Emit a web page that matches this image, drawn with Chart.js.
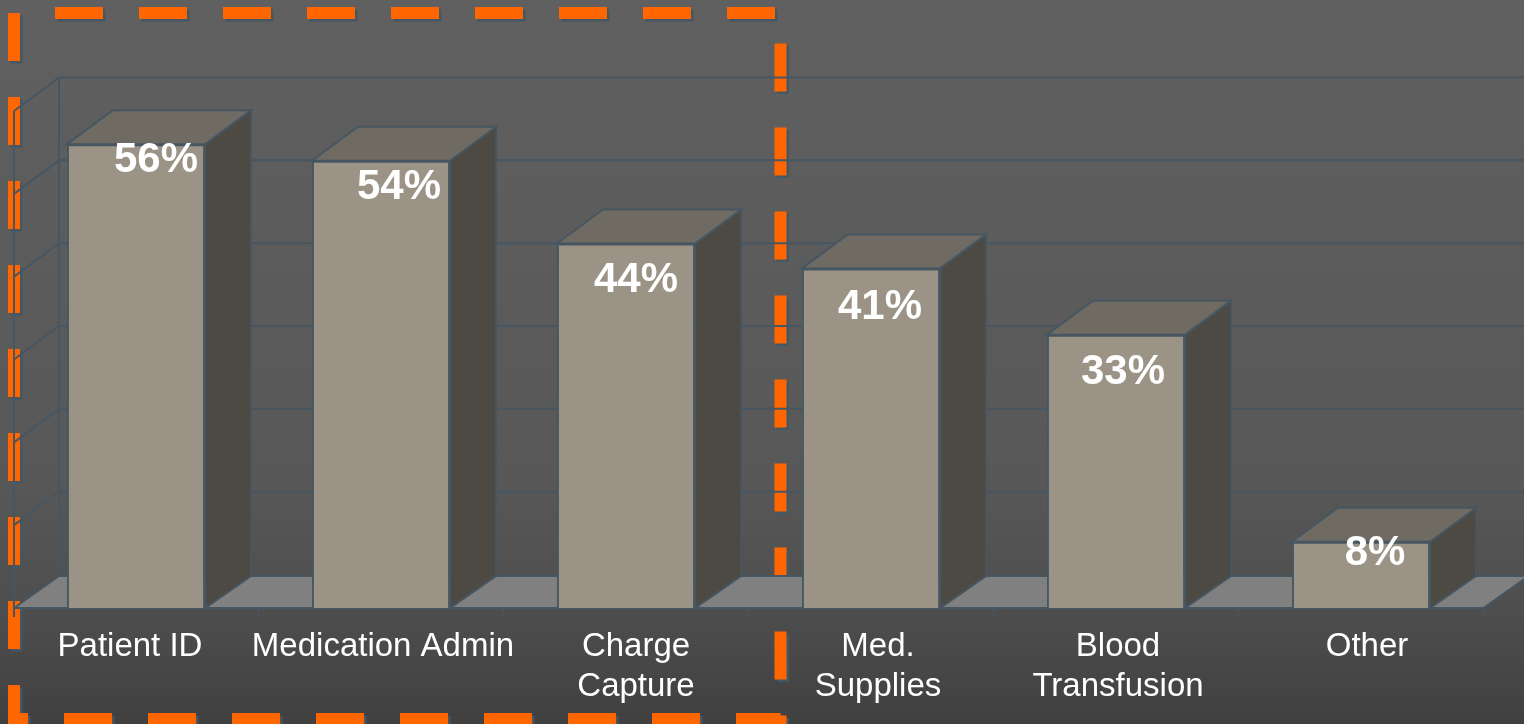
<!DOCTYPE html>
<html>
<head>
<meta charset="utf-8">
<style>html,body{margin:0;padding:0;background:#505050;overflow:hidden}canvas{display:block}</style>
<script src="https://cdn.jsdelivr.net/npm/chart.js@4"></script>
</head>
<body>
<canvas id="c" width="1524" height="724"></canvas>
<script>
const categories = ["Patient ID", "Medication Admin", ["Charge", "Capture"], ["Med.", "Supplies"], ["Blood", "Transfusion"], "Other"];
const values = [56, 54, 44, 41, 33, 8];
const valueLabels = ["56%", "54%", "44%", "41%", "33%", "8%"];
const labelShiftX = [20, 18, 10, 9, 7, 14];
const labelShiftY = [15.5, 25.5, 35.5, 38.5, 36.5, 10.5];
const tickShiftX = [-6, 2, 10, 7, 2, 6];

const LINE = '#465662';
const wallDX = 45, wallDY = 33.5, barDX = 46, barDY = 34;

function poly(ctx, pts, fill, stroke) {
  ctx.beginPath();
  pts.forEach((p, i) => i ? ctx.lineTo(p[0], p[1]) : ctx.moveTo(p[0], p[1]));
  ctx.closePath();
  if (fill) { ctx.fillStyle = fill; ctx.fill(); }
  if (stroke) { ctx.strokeStyle = stroke; ctx.lineWidth = 2; ctx.lineJoin = 'miter'; ctx.stroke(); }
}

const scene = {
  id: 'scene',
  beforeDraw(chart) {
    const { ctx, width, height } = chart;
    ctx.save();
    const g = ctx.createLinearGradient(0, 0, 0, height);
    g.addColorStop(0, '#606060');
    g.addColorStop(0.66, '#585858');
    g.addColorStop(0.84, '#4e4e4e');
    g.addColorStop(1, '#404040');
    ctx.fillStyle = g;
    ctx.fillRect(0, 0, width, height);
    // orange dashed callout frame
    ctx.shadowColor = LINE;
    ctx.shadowOffsetX = 2.5;
    ctx.shadowOffsetY = 2.5;
    ctx.shadowBlur = 0;
    ctx.strokeStyle = '#FF6600';
    ctx.lineWidth = 12;
    ctx.lineCap = 'butt';
    ctx.setLineDash([48, 36]);
    ctx.beginPath();
    ctx.moveTo(55, 13);
    ctx.lineTo(780.5, 13);
    ctx.lineTo(780.5, 719);
    ctx.lineTo(14, 719);
    ctx.lineTo(14, 13);
    ctx.stroke();
    ctx.restore();
    // nudge category labels to their hand-placed positions
    chart.scales.x.getLabelItems().forEach((item, i) => {
      if (!item._shifted) {
        item.options.translation[0] += tickShiftX[i];
        item._shifted = true;
      }
    });
  },
  beforeDatasetsDraw(chart) {
    const { ctx, scales: { x, y }, chartArea: a, width } = chart;
    ctx.save();
    const y0 = y.getPixelForValue(0);
    const fx = a.left + 0.5;
    // floor
    poly(ctx, [[fx, y0], [fx + wallDX, y0 - 32], [a.right + wallDX, y0 - 32], [a.right, y0]], '#808080', null);
    ctx.strokeStyle = LINE;
    ctx.lineWidth = 2;
    // grid on walls
    y.ticks.forEach(t => {
      const py = y.getPixelForValue(t.value);
      const by = t.value === 0 ? y0 - 32 : py - wallDY;
      ctx.beginPath();
      ctx.moveTo(fx, py);
      ctx.lineTo(fx + wallDX, by);
      ctx.lineTo(width, by);
      ctx.stroke();
    });
    const yTop = y.getPixelForValue(y.max);
    ctx.beginPath();
    ctx.moveTo(fx, yTop); ctx.lineTo(fx, y0 + 9);
    ctx.moveTo(fx + wallDX, yTop - wallDY); ctx.lineTo(fx + wallDX, y0 - 32);
    ctx.moveTo(a.left, y0); ctx.lineTo(a.right, y0);
    ctx.stroke();
    // right floor edge
    ctx.beginPath();
    ctx.moveTo(a.right, y0); ctx.lineTo(a.right + wallDX, y0 - 32);
    ctx.stroke();
    // tick stubs between categories
    const step = (a.right - a.left) / categories.length;
    ctx.lineWidth = 1.5;
    for (let i = 1; i <= categories.length; i++) {
      const px = a.left + step * i;
      ctx.beginPath(); ctx.moveTo(px, y0); ctx.lineTo(px, y0 + 9); ctx.stroke();
    }
    // bar side and top faces
    chart.getDatasetMeta(0).data.forEach(b => {
      const l = b.x - b.width / 2, r = b.x + b.width / 2, t = b.y, f = b.base;
      poly(ctx, [[r, t], [r + barDX, t - barDY], [r + barDX, f - 32], [r, f]], '#4D4A43', LINE);
      poly(ctx, [[l, t], [l + barDX, t - barDY], [r + barDX, t - barDY], [r, t]], '#6F6B63', LINE);
    });
    ctx.restore();
  },
  afterDatasetsDraw(chart) {
    const { ctx } = chart;
    ctx.save();
    ctx.font = 'bold 42px "Liberation Sans"';
    ctx.fillStyle = '#FFFFFF';
    ctx.textAlign = 'center';
    ctx.textBaseline = 'middle';
    chart.getDatasetMeta(0).data.forEach((b, i) => {
      ctx.fillText(valueLabels[i], b.x + labelShiftX[i], b.y + labelShiftY[i] + 1);
    });
    ctx.restore();
  }
};

new Chart(document.getElementById('c'), {
  type: 'bar',
  data: {
    labels: categories,
    datasets: [{
      data: values,
      backgroundColor: '#9A9386',
      borderColor: LINE,
      borderWidth: 2,
      categoryPercentage: 1,
      barPercentage: 0.564
    }]
  },
  plugins: [scene],
  options: {
    responsive: false,
    animation: false,
    devicePixelRatio: 1,
    layout: { padding: { left: 13.5, right: 40.5, top: 111, bottom: 0 } },
    plugins: { legend: { display: false }, tooltip: { enabled: false } },
    scales: {
      x: {
        grid: { display: false },
        border: { display: false },
        afterFit(s) { s.height = 116; },
        ticks: {
          color: '#FFFFFF',
          padding: 11,
          maxRotation: 0,
          minRotation: 0,
          autoSkip: false,
          font: { family: '"Liberation Sans"', size: 33, lineHeight: 1.21 }
        }
      },
      y: {
        min: 0,
        max: 60,
        afterFit(s) { s.width = 0; },
        grid: { display: false },
        border: { display: false },
        ticks: { display: false, stepSize: 10 }
      }
    }
  }
});
</script>
</body>
</html>
